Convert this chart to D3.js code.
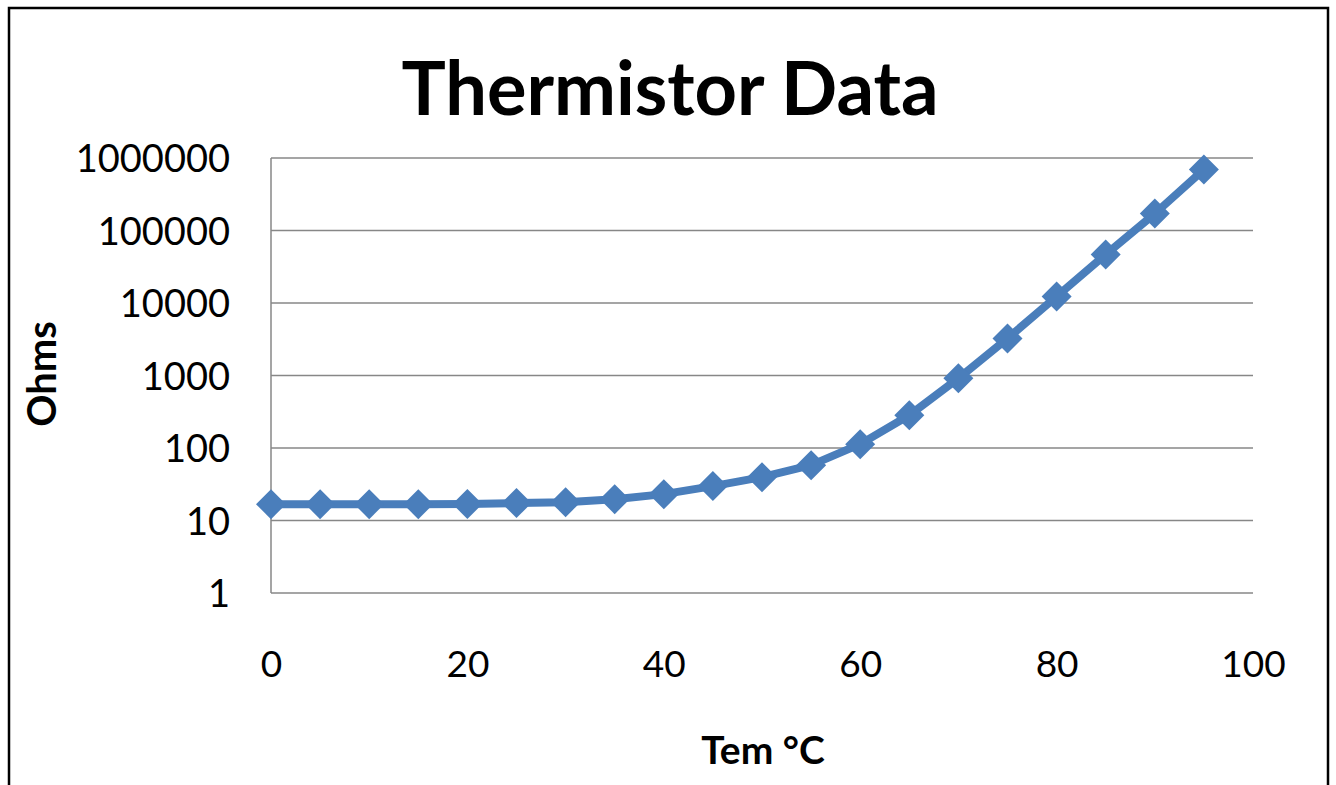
<!DOCTYPE html>
<html><head><meta charset="utf-8">
<script src="https://cdn.jsdelivr.net/npm/d3@7"></script>
<style>body{margin:0;background:#fff}svg{display:block}</style>
</head><body>
<svg id="c" width="1336" height="785"></svg>
<script>
const temps = [0,5,10,15,20,25,30,35,40,45,50,55,60,65,70,75,80,85,90,95];
const ohms = [16.8,16.8,16.8,16.8,16.9,17.4,17.9,19.7,23.1,29.8,39.6,58,113,283,915,3250,12300,46700,171000,692000];
const xTicks = [0,20,40,60,80,100];
const yTicks = [1,10,100,1000,10000,100000,1000000];
const title = "Thermistor Data";
const xTitle = "Tem °C";
const yTitle = "Ohms";

const svg = d3.select("#c");
const font = "Lato, 'Open Sans', sans-serif";
svg.append("rect").attr("x",9).attr("y",8).attr("width",1319).attr("height",800)
  .attr("fill","#fff").attr("stroke","#000").attr("stroke-width",2.5);

const x = d3.scaleLinear().domain([0,100]).range([271,1253]);
const y = d3.scaleLog().domain([1,1000000]).range([593,158]);

// gridlines
svg.append("g").selectAll("line").data(yTicks).join("line")
  .attr("x1",271).attr("x2",1253).attr("y1",d=>y(d)).attr("y2",d=>y(d))
  .attr("stroke","#878787").attr("stroke-width",1.5);
svg.append("line").attr("x1",271).attr("x2",271).attr("y1",158).attr("y2",593)
  .attr("stroke","#878787").attr("stroke-width",1.5);

// y labels
const ya = d3.axisLeft(y).tickValues(yTicks).tickFormat(d3.format("d")).tickSize(0).tickPadding(0);
const gy = svg.append("g").attr("transform","translate(230,0)").call(ya);
gy.select(".domain").remove();
gy.selectAll("text").attr("font-family",font).attr("font-size",38).attr("fill","#000").attr("dy","0.36em");

// x labels
const xa = d3.axisBottom(x).tickValues(xTicks).tickFormat(d3.format("d")).tickSize(0).tickPadding(0);
const gx = svg.append("g").attr("transform","translate(0,651)").call(xa);
gx.select(".domain").remove();
gx.selectAll("text").attr("font-family",font).attr("font-size",37).attr("fill","#000").attr("dy","0.71em");

// line
const line = d3.line().x((d,i)=>x(temps[i])).y(d=>y(d));
svg.append("path").datum(ohms).attr("d",line).attr("fill","none")
  .attr("stroke","#4A7EBB").attr("stroke-width",8).attr("stroke-linejoin","round");
svg.append("g").selectAll("path").data(ohms).join("path")
  .attr("transform",(d,i)=>`translate(${x(temps[i])},${y(d)})`)
  .attr("d","M0,-15L15,0L0,15L-15,0Z").attr("fill","#4A7EBB");

// titles
svg.append("text").attr("x",670).attr("y",115).attr("text-anchor","middle")
  .attr("font-family",font).attr("font-weight","bold").attr("font-size",74).text(title);
svg.append("text").attr("x",763).attr("y",764).attr("text-anchor","middle")
  .attr("font-family",font).attr("font-weight","bold").attr("font-size",39).text(xTitle);
svg.append("text").attr("transform","translate(56,374) rotate(-90)").attr("text-anchor","middle")
  .attr("font-family",font).attr("font-weight","bold").attr("font-size",40).text(yTitle);
</script>
</body></html>
